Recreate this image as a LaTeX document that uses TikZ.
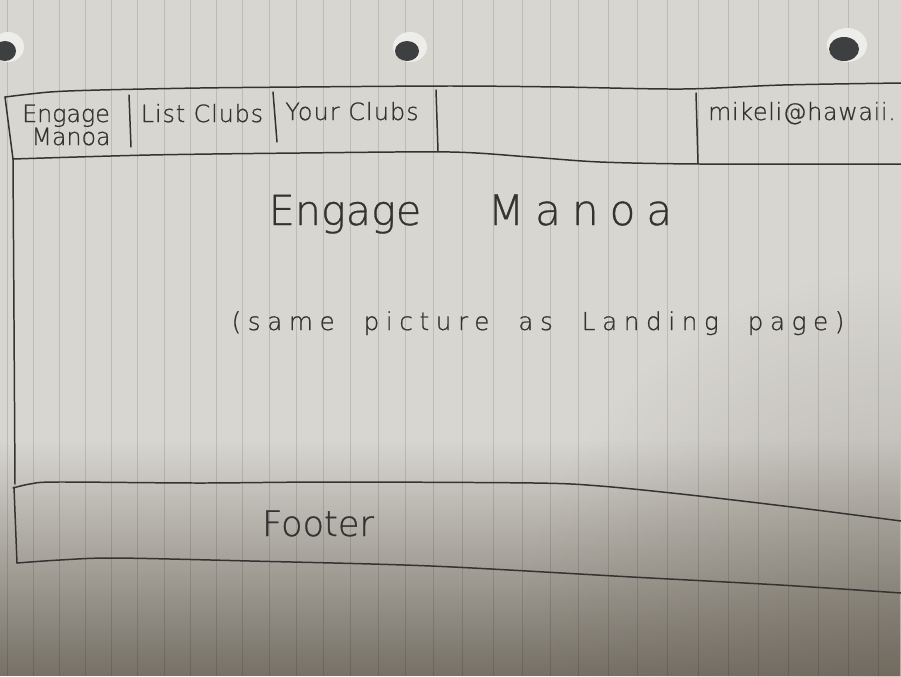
\documentclass[tikz,border=0pt]{standalone}
\usepackage{fontspec}
\setmainfont{DejaVu Sans ExtraLight}[UprightFeatures={FakeBold=0.8}]
\newfontfamily\notefont[LetterSpace=27,WordSpace=2,FakeBold=0.8]{DejaVu Sans ExtraLight}
\usetikzlibrary{fadings}

\definecolor{paper}{HTML}{D8D6D1}
\definecolor{shadow}{HTML}{655F53}
\definecolor{ink}{HTML}{333331}
\definecolor{holerim}{HTML}{EDEDEA}
\definecolor{holedark}{HTML}{3E3F41}

\tikzfading[name=risefade, top color=transparent!100, bottom color=transparent!0]
\tikzfading[name=cornerfade, inner color=transparent!0, outer color=transparent!100]

\tikzset{
  sketch/.style={draw=ink, line width=0.85pt, line cap=round, line join=round},
  ruled/.style={draw=black, opacity=0.12, line width=0.5pt},
  hand/.style={text=ink, inner sep=0pt, anchor=base},
  navtext/.style={hand, font={\fontsize{13.5}{16}\selectfont}},
}

\begin{document}
\begin{tikzpicture}[x=0.02cm, y=-0.02cm]
  \useasboundingbox (0,0) rectangle (901,676);

  % sheet of paper, shaded towards the bottom
  \fill[paper] (0,0) rectangle (901,676);
  \fill[shadow, opacity=0.85, path fading=risefade] (0,440) rectangle (901,676);
  \fill[shadow, opacity=0.35, path fading=cornerfade] (901,650) circle [radius=380];

  % ruled lines of the sheet
  \foreach \rx in {7,33,59,85,111,137,164,190,216,242,269,296,323,350,378,405,433,
                   462,493,522,550,578,608,637,667,698,728,758,788,818,848,878}
    \draw[ruled] (\rx,0) -- (\rx,676);

  % punched holes
  \foreach \hx/\hy/\rx/\ry in {8/47/16/15, 410/47/17/15, 847/45/20/17} {
    \fill[holerim] (\hx,\hy) ellipse [x radius=\rx, y radius=\ry];
    \fill[holedark] (\hx-3,\hy+4) ellipse [x radius=\rx-5, y radius=\ry-5];
  }

  % navigation bar
  \draw[sketch] plot[smooth] coordinates {(5,97) (50,92) (100,90) (200,88) (300,87) (450,86)
      (560,87) (683,89) (783,85) (901,83)};
  \draw[sketch] (5,97) -- (13,159);
  \draw[sketch] plot[smooth] coordinates {(13,159) (150,155) (300,153) (450,152) (530,157)
      (600,162) (700,164) (901,164)};
  \draw[sketch] (129,95) -- (131,147);
  \draw[sketch] (273,92) -- (277,142);
  \draw[sketch] (436,90) -- (438,151);
  \draw[sketch] (696,93) -- (698,163);

  \node[navtext] (brandtop) at (66,122) {Engage};
  \node[navtext] (brandbot) at (71,145) {Manoa};
  \node[navtext, font={\fontsize{13.5}{16}\selectfont\addfontfeatures{LetterSpace=4}}] (listclubs) at (202,122) {List Clubs};
  \node[navtext, font={\fontsize{13.5}{16}\selectfont\addfontfeatures{LetterSpace=5}}] (yourclubs) at (352,120) {Your Clubs};
  \node[navtext, font={\fontsize{13.5}{16}\selectfont\addfontfeatures{LetterSpace=3}}] (user) at (802,120) {mikeli@hawaii.};

  % main content area
  \draw[sketch] plot[smooth] coordinates {(13,159) (14,320) (15,484)};
  \node[hand, font={\fontsize{23.5}{28}\selectfont}] (titleA) at (345,225) {Engage};
  \node[hand, font={\fontsize{24}{28}\selectfont\addfontfeatures{LetterSpace=26}}] (titleB) at (580,225) {Manoa};
  \node[hand, font={\notefont\fontsize{14}{16}\selectfont}] (note) at (538,330)
      {(same picture as Landing page)};

  % footer
  \draw[sketch] plot[smooth] coordinates {(13,488) (30,484) (57,482) (200,483) (330,482) (534,483)
      (600,486) (690,495) (800,508) (901,521)};
  \draw[sketch] (14,487) -- (17,563);
  \draw[sketch] plot[smooth] coordinates {(17,563) (60,560) (115,558) (250,561) (431,566)
      (632,577) (780,585) (901,593)};
  \node[hand, font={\fontsize{20}{24}\selectfont}] (footer) at (318,536) {Footer};
\end{tikzpicture}
\end{document}
